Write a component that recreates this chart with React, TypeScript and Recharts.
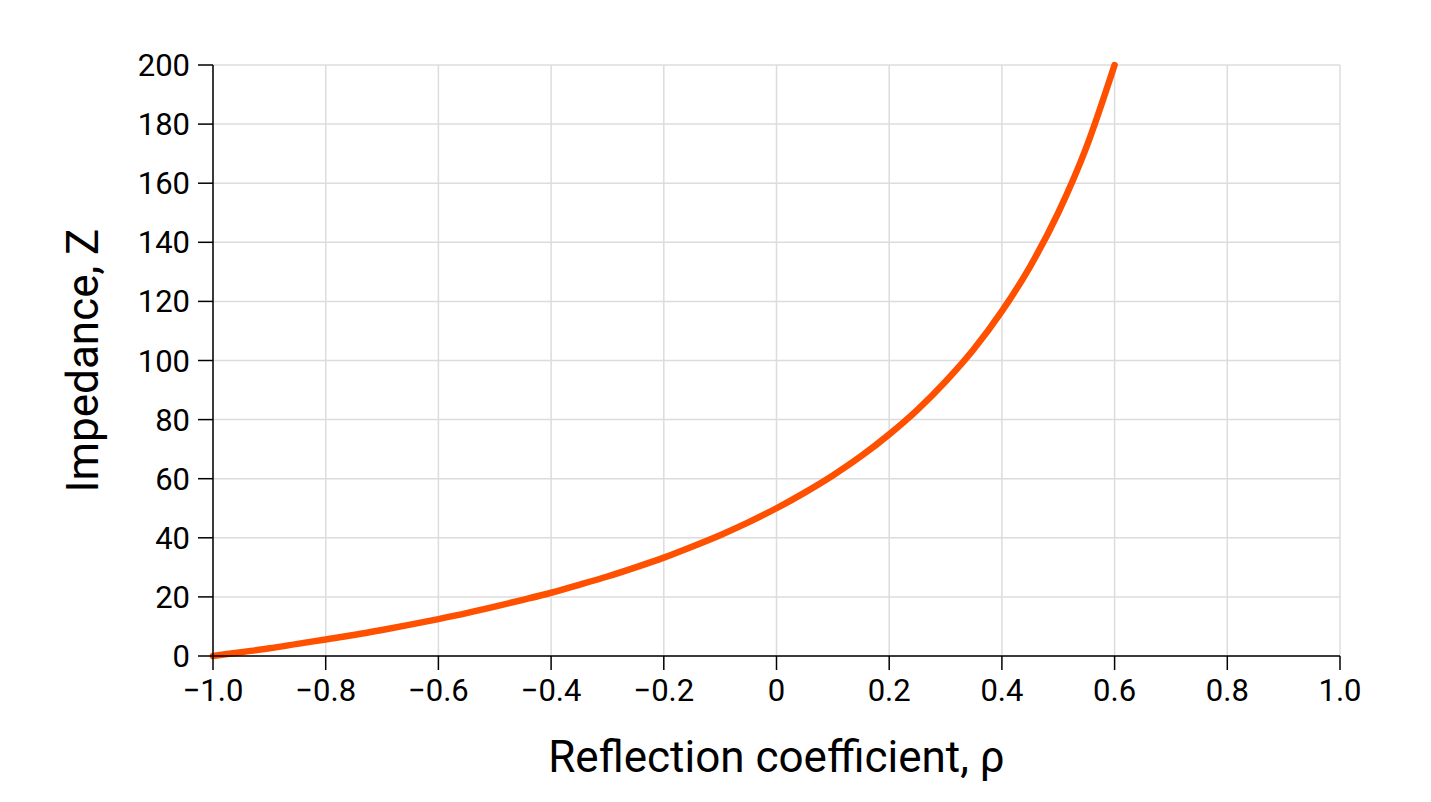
import React from 'react';
import { LineChart, Line, XAxis, YAxis, CartesianGrid, Label } from 'recharts';

// reflection coefficient (x) and impedance (y)
const rho = [
  -1, -0.95, -0.9, -0.85, -0.8, -0.75, -0.7, -0.65, -0.6, -0.55, -0.5, -0.45, -0.4,
  -0.35, -0.3, -0.25, -0.2, -0.15, -0.1, -0.05, 0, 0.05, 0.1, 0.15, 0.2, 0.25, 0.3,
  0.35, 0.4, 0.45, 0.5, 0.55, 0.6,
];
const impedance = [
  0, 1.3, 2.6, 4.1, 5.6, 7.1, 8.8, 10.6, 12.5, 14.5, 16.7, 19.0, 21.4,
  24.1, 26.9, 30.0, 33.3, 37.0, 40.9, 45.2, 50.0, 55.3, 61.1, 67.6, 75.0, 83.3, 92.9,
  103.8, 116.7, 131.8, 150.0, 172.2, 200.0,
];

const xTicks = [-1, -0.8, -0.6, -0.4, -0.2, 0, 0.2, 0.4, 0.6, 0.8, 1];
const xTickLabels = ['\u22121.0', '\u22120.8', '\u22120.6', '\u22120.4', '\u22120.2', '0', '0.2', '0.4', '0.6', '0.8', '1.0'];
const yTicks = [0, 20, 40, 60, 80, 100, 120, 140, 160, 180, 200];

const data = rho.map((r, i) => ({ rho: r, z: impedance[i] }));

const FONT = 'Roboto, "Noto Sans", sans-serif';
const tickStyle = { fill: '#000', fontSize: 31, fontFamily: FONT };
const titleStyle = { fill: '#000', fontSize: 44, fontFamily: FONT };

export default function App() {
  return (
    <div style={{ width: 1415, height: 786, background: '#fff' }}>
      <LineChart
        width={1415}
        height={786}
        data={data}
        margin={{ top: 57, right: 83, bottom: 0, left: 0 }}
      >
        <CartesianGrid stroke="#dcdcdc" strokeWidth={1.5} />
        <XAxis
          dataKey="rho"
          type="number"
          domain={[-1, 1]}
          ticks={xTicks}
          tickFormatter={(v: number) => xTickLabels[xTicks.indexOf(v)] ?? String(v)}
          stroke="#000"
          strokeWidth={1.5}
          tickSize={14}
          tickMargin={9}
          tick={tickStyle}
          height={138}
        >
          <Label
            value="Reflection coefficient, ρ"
            position="insideBottom"
            offset={22}
            style={titleStyle}
          />
        </XAxis>
        <XAxis
          xAxisId="top"
          orientation="top"
          type="number"
          domain={[-1, 1]}
          dataKey="rho"
          tick={false}
          tickLine={false}
          stroke="#000"
          strokeWidth={1.5}
          height={0}
        />
        <YAxis
          type="number"
          domain={[0, 200]}
          ticks={yTicks}
          stroke="#000"
          strokeWidth={1.5}
          tickSize={15}
          tickMargin={8}
          tick={tickStyle}
          width={205}
        >
          <Label
            value="Impedance, Z"
            angle={-90}
            position="insideLeft"
            offset={74}
            style={{ ...titleStyle, textAnchor: 'middle' }}
          />
        </YAxis>
        <YAxis
          yAxisId="right"
          orientation="right"
          type="number"
          domain={[0, 200]}
          tick={false}
          tickLine={false}
          stroke="#000"
          strokeWidth={1.5}
          width={0}
        />
        <Line
          type="monotone"
          dataKey="z"
          stroke="#ff5000"
          strokeWidth={6.5}
          strokeLinecap="round"
          dot={false}
          isAnimationActive={false}
        />
      </LineChart>
    </div>
  );
}
